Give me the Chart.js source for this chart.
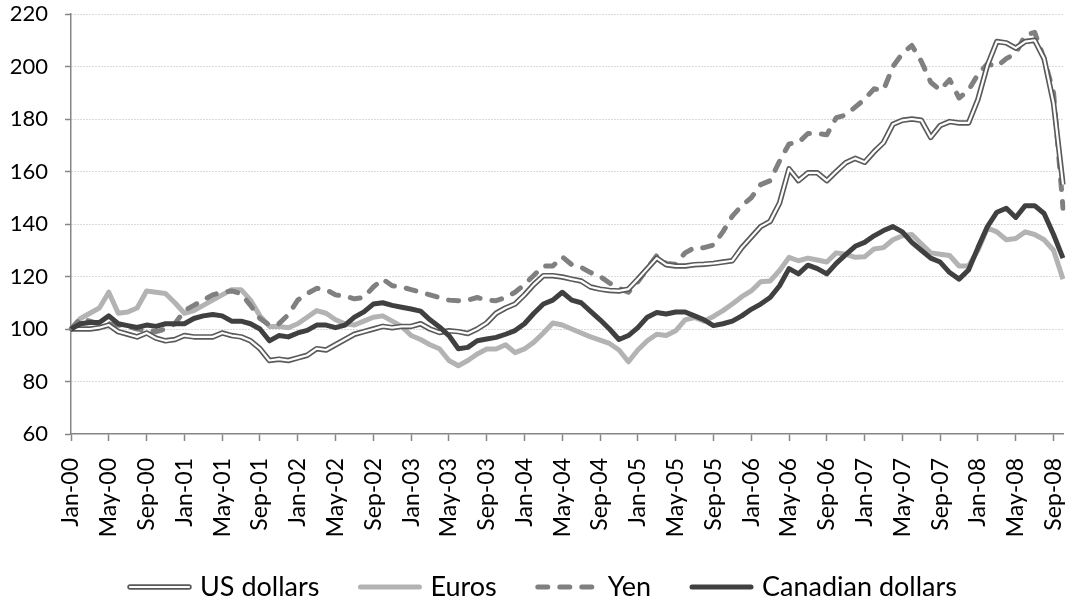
<!DOCTYPE html>
<html>
<head>
<meta charset="utf-8">
<script src="https://cdn.jsdelivr.net/npm/chart.js@4.4.1/dist/chart.umd.min.js"></script>
<style>
  body { margin: 0; background: #fff; }
  #wrap { width: 1073px; height: 604px; }
</style>
</head>
<body>
<div id="wrap"><canvas id="fxChart" width="1073" height="604"></canvas></div>
<script>
// Month tick labels (Jan-00 .. Oct-08)
const monthNames = ['Jan', 'Feb', 'Mar', 'Apr', 'May', 'Jun', 'Jul', 'Aug', 'Sep', 'Oct', 'Nov', 'Dec'];
const yearLabels = ['00', '01', '02', '03', '04', '05', '06', '07', '08'];
const lastMonthOf2008 = 10;

const categories = [];
yearLabels.forEach((yr, yi) => {
  const n = yi === yearLabels.length - 1 ? lastMonthOf2008 : 12;
  for (let m = 0; m < n; m++) categories.push(monthNames[m] + '-' + yr);
});

// Index values (Jan-00 = 100)
const usDollars = [
  100, 100, 100, 100.5, 101.5, 99, 98, 97, 98.5, 96.5, 95.5, 96,
  97.5, 97, 97, 97, 98.5, 97.5, 97, 95.5, 92.5, 88, 88.5, 88,
  89, 90, 92.5, 92, 94, 96, 98, 99, 100, 101, 100.5, 101,
  101, 102, 100, 98.7, 99.3, 99, 98.3, 100, 102.3, 106, 108, 109.5,
  113, 117, 120.3, 120.3, 119.8, 119, 118.3, 116, 115.2, 114.7, 114.5, 115.2,
  119, 123, 127, 124.5, 124, 124, 124.5, 124.7, 125, 125.5, 126, 131,
  135, 139, 141, 148, 161, 156.5, 159.5, 159.5, 156.5, 160, 163.3, 165,
  163.5, 167.5, 171, 178, 179.5, 180, 179.5, 173, 177.5, 179, 178.5, 178.5,
  187.5, 200.5, 209.5, 209, 207, 209.5, 210, 203, 186, 155
];
const euros = [
  100, 104, 106, 108, 114, 106, 106.5, 108, 114.5, 114, 113.5, 110,
  106, 107, 109, 111, 113, 115, 115, 111, 105, 101, 101, 100.5,
  102, 104.5, 107, 106, 103.5, 102, 101.5, 103, 104.5, 105, 103, 101,
  97.5, 96, 94, 92.5, 88, 86, 88, 90.5, 92.4, 92.4, 94, 91,
  92.4, 95, 98.5, 102.3, 101.5, 100, 98.5, 97, 95.8, 94.5, 92, 87.5,
  92, 95.5, 98, 97.5, 99.3, 103.5, 104.4, 103, 104.8, 107, 109.5, 112.3,
  114.5, 118, 118.3, 122.3, 127.3, 126, 127, 126.3, 125.5, 129, 128.5, 127.3,
  127.5, 130.5, 131, 134, 135.5, 136, 132.5, 129, 128.5, 128, 124, 124,
  130, 138.5, 137, 134, 134.5, 137, 136, 134, 130, 119
];
const yen = [
  100, 104, 103, 102, 102, 101.5, 101, 100, 99.5, 99, 100, 102,
  107, 109, 111, 113, 114, 114.5, 113.5, 109, 104, 101.5, 102, 105.5,
  111, 113.5, 115.5, 115, 113, 112.5, 111.5, 112, 116, 119, 116.5, 116,
  115, 114, 113, 112, 111, 110.8, 111, 112, 111, 110.8, 112, 114,
  117, 120.5, 124, 124, 127.5, 124.5, 123.5, 121.5, 120, 117.5, 115.5, 114,
  118, 123, 128, 125, 124.7, 129, 131, 131, 132, 137, 143, 147,
  150, 155, 156.5, 164, 170.5, 171, 174.5, 174.5, 174, 180.5, 181.5, 184.5,
  187.5, 191.5, 191, 200, 205, 208, 202, 194, 191, 195, 188, 191,
  197, 201, 200, 203, 205, 212, 213, 203, 190, 146
];
const canadianDollars = [
  100, 102, 102.5, 102.5, 105, 102, 101.3, 100.6, 101.5, 101, 102, 102,
  102, 104, 105, 105.5, 105, 103, 103, 102, 100, 95.5, 97.5, 97,
  98.5, 99.5, 101.5, 101.5, 100.5, 101.5, 104.5, 106.5, 109.5, 110, 109, 108.3,
  107.6, 106.8, 103.5, 100.8, 97.5, 92.5, 93, 95.5, 96.2, 96.8, 98, 99.4,
  102, 106, 109.5, 111, 114, 111, 110, 106.7, 103.5, 100, 96, 97.5,
  100.5, 104.5, 106.3, 105.7, 106.5, 106.5, 105, 103.5, 101.3, 102, 103, 105,
  107.5, 109.5, 112, 116.5, 123, 121, 124.3, 123, 121, 125, 128.3, 131.5,
  133, 135.5, 137.5, 139, 137, 133, 130, 127, 125.5, 121.5, 119, 122.5,
  131, 139, 144.5, 146, 142.5, 147, 147, 144, 136, 127
];

const seriesNames = ['US dollars', 'Euros', 'Yen', 'Canadian dollars'];
const yTicks = { min: 60, max: 220, step: 20 };

const FONT = 'Lato, "Open Sans", sans-serif';
const AXIS_GRAY = '#868686';

// custom legend at the bottom (double line sample for US dollars)
const bottomLegend = {
  id: 'bottomLegend',
  afterDraw(chart) {
    const ctx = chart.ctx;
    const styles = [
      { color: '#5a5a5a', width: 5.5, inner: '#ffffff', dash: [] },
      { color: '#b3b3b3', width: 5, dash: [] },
      { color: '#808080', width: 5, dash: [10, 12] },
      { color: '#404040', width: 5, dash: [] }
    ];
    const lineLen = 65;
    const lineY = 587;
    let x = 127;
    ctx.save();
    ctx.font = '27px ' + FONT;
    ctx.textBaseline = 'alphabetic';
    ctx.fillStyle = '#000';
    seriesNames.forEach((name, i) => {
      const s = styles[i];
      ctx.lineCap = 'round';
      ctx.setLineDash(s.dash);
      ctx.strokeStyle = s.color;
      ctx.lineWidth = s.width;
      ctx.beginPath();
      ctx.moveTo(x + 3, lineY);
      ctx.lineTo(x + lineLen - 3, lineY);
      ctx.stroke();
      if (s.inner) {
        ctx.strokeStyle = s.inner;
        ctx.lineWidth = 2.2;
        ctx.beginPath();
        ctx.moveTo(x + 3, lineY);
        ctx.lineTo(x + lineLen - 3, lineY);
        ctx.stroke();
      }
      ctx.setLineDash([]);
      ctx.fillText(name, x + lineLen + 8, 596);
      x += lineLen + 8 + ctx.measureText(name).width + 38;
    });
    ctx.restore();
  }
};

function drawChart() {
  const ctx = document.getElementById('fxChart').getContext('2d');
  new Chart(ctx, {
    type: 'line',
    data: {
      labels: categories,
      datasets: [
        {
          label: 'Canadian dollars',
          data: canadianDollars,
          borderColor: '#404040',
          borderWidth: 5,
          order: 0
        },
        {
          label: 'US dollars inner',
          data: usDollars,
          borderColor: '#ffffff',
          borderWidth: 2.2,
          order: 1
        },
        {
          label: 'US dollars',
          data: usDollars,
          borderColor: '#5a5a5a',
          borderWidth: 5.5,
          order: 2
        },
        {
          label: 'Yen',
          data: yen,
          borderColor: '#808080',
          borderWidth: 5,
          borderDash: [10, 12],
          borderCapStyle: 'round',
          order: 3
        },
        {
          label: 'Euros',
          data: euros,
          borderColor: '#b3b3b3',
          borderWidth: 5,
          order: 4
        }
      ]
    },
    options: {
      responsive: false,
      animation: false,
      layout: { padding: { top: 14, right: 10, bottom: 60, left: 0 } },
      elements: {
        point: { radius: 0, hoverRadius: 0 },
        line: { tension: 0, borderJoinStyle: 'round', fill: false }
      },
      plugins: {
        legend: { display: false },
        tooltip: { enabled: false }
      },
      scales: {
        x: {
          type: 'category',
          offset: false,
          afterFit: (scale) => {
            scale.height = 110;
            scale.paddingLeft = 0;
            scale.paddingRight = 0;
          },
          grid: {
            drawOnChartArea: false,
            tickLength: 7,
            tickWidth: 1.5,
            tickColor: (c) => (c.index % 4 === 0 ? AXIS_GRAY : 'rgba(0,0,0,0)')
          },
          border: { color: AXIS_GRAY, width: 1.5 },
          ticks: {
            autoSkip: false,
            minRotation: 90,
            maxRotation: 90,
            padding: 17,
            color: '#000',
            font: { family: FONT, size: 23 },
            callback: function (val, index) {
              return index % 4 === 0 ? this.getLabelForValue(val) : '';
            }
          }
        },
        y: {
          min: yTicks.min,
          max: yTicks.max,
          afterFit: (scale) => {
            scale.width = 71;
            scale.paddingTop = 0;
            scale.paddingBottom = 0;
          },
          grid: {
            color: (c) => (c.tick && c.tick.value === yTicks.min ? 'rgba(0,0,0,0)' : '#b4b4b4'),
            lineWidth: 1,
            tickLength: 6,
            tickColor: AXIS_GRAY,
            tickWidth: 1.5
          },
          border: { color: AXIS_GRAY, width: 1.5, dash: [1, 2] },
          ticks: {
            stepSize: yTicks.step,
            padding: 17,
            color: '#000',
            font: { family: FONT, size: 22 }
          }
        }
      }
    },
    plugins: [bottomLegend]
  });
}

if (document.fonts && document.fonts.load) {
  Promise.all([document.fonts.load('22px Lato'), document.fonts.load('27px Lato')])
    .then(drawChart, drawChart);
} else {
  drawChart();
}
</script>
</body>
</html>
